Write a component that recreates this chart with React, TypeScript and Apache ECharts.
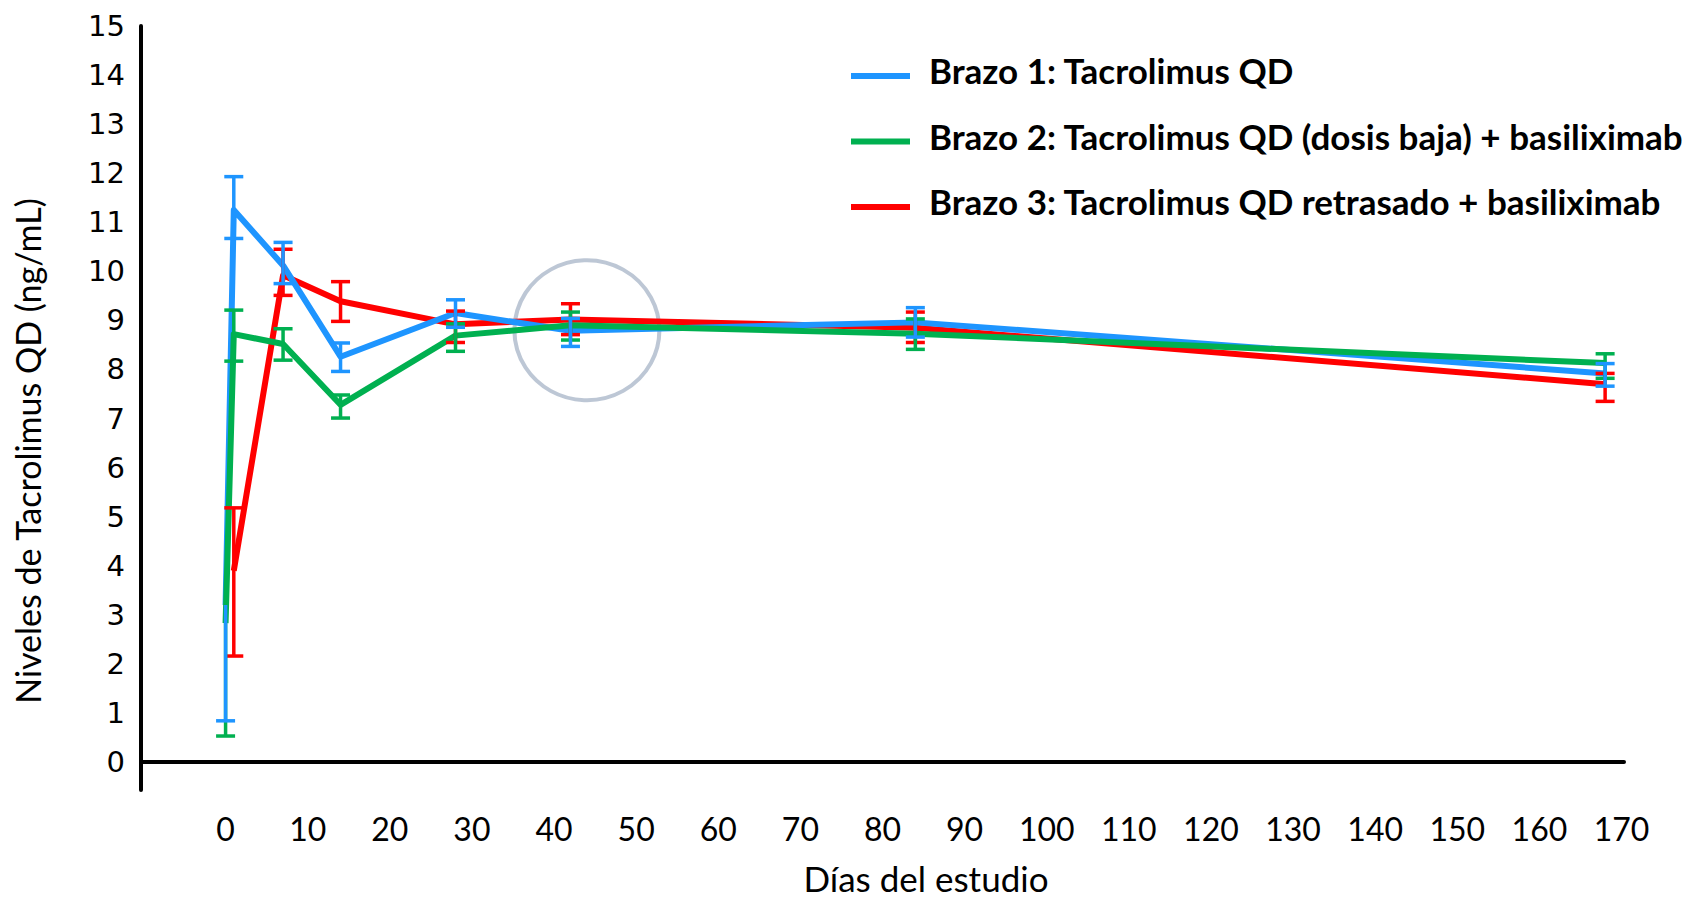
import React, { useEffect, useRef } from "react";
import * as echarts from "echarts";

// Axis tick labels
const dayTicks = [0, 10, 20, 30, 40, 50, 60, 70, 80, 90, 100, 110, 120, 130, 140, 150, 160, 170];
const levelTicks = [0, 1, 2, 3, 4, 5, 6, 7, 8, 9, 10, 11, 12, 13, 14, 15];

// Series names
const armNames = [
  "Brazo 1: Tacrolimus QD",
  "Brazo 2: Tacrolimus QD (dosis baja) + basiliximab",
  "Brazo 3: Tacrolimus QD retrasado + basiliximab",
];

// Brazo 1: mean trough level and error-bar bounds (ng/mL)
const arm1Days = [0, 1, 7, 14, 28, 42, 84, 168];
const arm1Mean = [3.2, 11.25, 10.12, 8.26, 9.15, 8.79, 8.96, 7.92];
const arm1High = [null, 11.93, 10.59, 8.54, 9.42, 9.04, 9.26, 8.12];
const arm1Low = [0.84, 10.67, 9.75, 7.96, 8.86, 8.47, 8.66, 7.66];

// Brazo 2
const arm2Days = [0, 1, 7, 14, 28, 42, 84, 168];
const arm2Mean = [2.83, 8.72, 8.52, 7.28, 8.69, 8.9, 8.73, 8.13];
const arm2High = [null, 9.21, 8.83, 7.48, 8.93, 9.17, 9.03, 8.32];
const arm2Low = [0.53, 8.17, 8.19, 7.01, 8.37, 8.6, 8.41, 7.82];

// Brazo 3 (tacrolimus started later, no day-0 value)
const arm3Days = [1, 7, 14, 28, 42, 84, 168];
const arm3Mean = [3.9, 9.92, 9.39, 8.92, 9.02, 8.85, 7.7];
const arm3High = [5.18, 10.45, 9.79, 9.19, 9.34, 9.17, 7.92];
const arm3Low = [2.16, 9.51, 8.98, 8.55, 8.71, 8.55, 7.35];

// Highlighted region (day, level)
const highlightCenter = [44, 8.8];

const colors = ["#1E95FF", "#00B050", "#FF0000"];
const textFont = "Lato, 'Open Sans', sans-serif";

// Legend swatch: a thick bar sitting in the lower part of its icon box,
// so the label's capitals line up slightly above the bar.
const legendSwatch = "path://M0,0L0.01,0L0.01,0.01ZM0,12H59V18H0Z";

function lineSeries(name: string, color: string, days: number[], mean: number[], z: number) {
  return {
    type: "line",
    name,
    z,
    data: days.map((d, i) => [d, mean[i]]),
    symbol: "none",
    showSymbol: false,
    color,
    itemStyle: { color },
    lineStyle: { color, width: 6, join: "round" },
    silent: true,
  };
}

function errorSeries(
  name: string,
  color: string,
  days: number[],
  mean: number[],
  high: (number | null)[],
  low: number[],
  z: number
) {
  return {
    type: "custom",
    name,
    z,
    silent: true,
    data: days.map((d, i) => [d, high[i] == null ? mean[i] : high[i], low[i], high[i] == null ? 0 : 1]),
    encode: { x: 0, y: [1, 2] },
    renderItem: (params: any, api: any) => {
      const top = api.coord([api.value(0), api.value(1)]);
      const bottom = api.coord([api.value(0), api.value(2)]);
      const hasTop = api.value(3) === 1;
      const half = 9.5;
      const style = { stroke: color, lineWidth: 3.5, fill: "none" };
      const children: any[] = [
        { type: "line", shape: { x1: top[0], y1: top[1], x2: bottom[0], y2: bottom[1] }, style },
        { type: "line", shape: { x1: bottom[0] - half, y1: bottom[1], x2: bottom[0] + half, y2: bottom[1] }, style },
      ];
      if (hasTop) {
        children.push({ type: "line", shape: { x1: top[0] - half, y1: top[1], x2: top[0] + half, y2: top[1] }, style });
      }
      return { type: "group", children };
    },
  };
}

export default function App() {
  const ref = useRef<HTMLDivElement>(null);

  useEffect(() => {
    if (!ref.current) return;
    const chart = echarts.init(ref.current, undefined, { renderer: "svg" });
    chart.setOption({
      animation: false,
      backgroundColor: "#ffffff",
      grid: { left: 141, right: 81, top: 26, bottom: 108, containLabel: false },
      legend: {
        data: armNames,
        orient: "vertical",
        left: 851,
        top: 50,
        icon: legendSwatch,
        itemWidth: 59,
        itemHeight: 18,
        itemGap: 25.5,
        padding: 0,
        selectedMode: false,
        itemStyle: { borderWidth: 0 },
        textStyle: {
          fontFamily: textFont,
          fontWeight: "bold",
          fontSize: 35,
          color: "#000",
          lineHeight: 40,
          padding: [0, 0, 0, 14],
        },
      },
      xAxis: {
        type: "value",
        min: -10.3,
        max: 170.3,
        axisLine: { show: true, lineStyle: { color: "#000", width: 4 } },
        axisTick: { show: false },
        splitLine: { show: false },
        axisLabel: {
          customValues: dayTicks,
          fontFamily: textFont,
          fontSize: 32,
          color: "#000",
          margin: 22,
        },
      },
      yAxis: {
        type: "value",
        min: -0.57,
        max: 15,
        axisLine: { show: true, onZero: false, lineStyle: { color: "#000", width: 4 } },
        axisTick: { show: false },
        splitLine: { show: false },
        axisLabel: {
          customValues: levelTicks,
          fontFamily: "'DejaVu Sans', Verdana, sans-serif",
          fontSize: 29,
          color: "#000",
          margin: 16,
        },
      },
      graphic: [
        {
          type: "text",
          x: 27,
          y: 451,
          rotation: Math.PI / 2,
          style: {
            text: "Niveles de Tacrolimus QD (ng/mL)",
            fontFamily: textFont,
            fontSize: 34,
            fill: "#000",
            align: "center",
            verticalAlign: "middle",
          },
        },
        {
          type: "text",
          x: 926,
          y: 878,
          style: {
            text: "Días del estudio",
            fontFamily: textFont,
            fontSize: 35,
            lineHeight: 34,
            fill: "#000",
            align: "center",
            verticalAlign: "middle",
          },
        },
      ],
      series: [
        {
          type: "scatter",
          name: "highlight",
          z: 1,
          silent: true,
          data: [highlightCenter],
          symbol: "circle",
          symbolSize: [145, 140],
          itemStyle: { color: "rgba(0,0,0,0)", borderColor: "#ADB9CA", borderWidth: 4 },
        },
        lineSeries(armNames[2], colors[2], arm3Days, arm3Mean, 2),
        lineSeries(armNames[0], colors[0], arm1Days, arm1Mean, 3),
        lineSeries(armNames[1], colors[1], arm2Days, arm2Mean, 4),
        errorSeries(armNames[2], colors[2], arm3Days, arm3Mean, arm3High, arm3Low, 5),
        errorSeries(armNames[1], colors[1], arm2Days, arm2Mean, arm2High, arm2Low, 6),
        errorSeries(armNames[0], colors[0], arm1Days, arm1Mean, arm1High, arm1Low, 7),
      ],
    });
    return () => chart.dispose();
  }, []);

  return (
    <div
      ref={ref}
      style={{ position: "fixed", left: 0, top: 0, width: 1705, height: 898, background: "#fff" }}
    />
  );
}
